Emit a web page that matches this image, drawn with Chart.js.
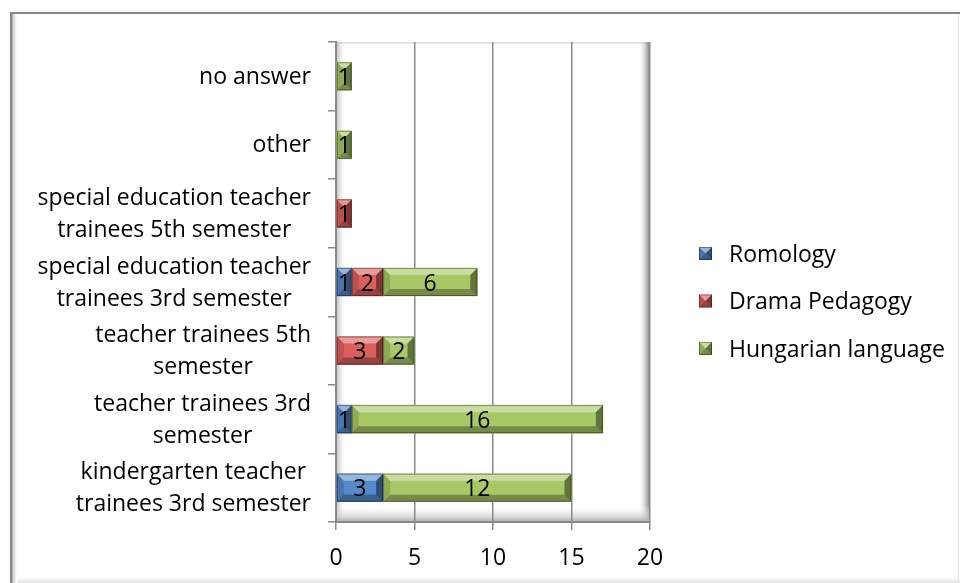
<!DOCTYPE html>
<html>
<head>
<meta charset="utf-8">
<script src="https://cdn.jsdelivr.net/npm/chart.js@4/dist/chart.umd.min.js"></script>
<style>
  html, body { margin: 0; padding: 0; background: #fff; }
  #wrap { width: 960px; height: 583px; }
</style>
</head>
<body>
<div id="wrap"><canvas id="chart" width="960" height="583"></canvas></div>
<script>
// categories, top to bottom (multi-line labels)
const categories = [
  ["no answer"],
  ["other"],
  ["special education teacher", "trainees 5th semester"],
  ["special education teacher", "trainees 3rd semester"],
  ["teacher trainees 5th", "semester"],
  ["teacher trainees 3rd", "semester"],
  ["kindergarten teacher", "trainees 3rd semester"]
];
const seriesNames = ["Romology", "Drama Pedagogy", "Hungarian language"];
const romology  = [null, null, null, 1, null, 1, 3];
const drama     = [null, null, 1, 2, 3, null, null];
const hungarian = [1, 1, null, 6, 2, 16, 12];
const xTicks = [0, 5, 10, 15, 20];

const FONT = "'Open Sans', sans-serif";
const FSIZE = 23;
const seriesColors = ["#5589C8", "#D9605D", "#A8C866"];

function bevel(ctx, l, t, r, b, color) {
  const w = r - l, h = b - t;
  const e = Math.min(7, w / 2, h / 2);
  ctx.save();
  ctx.fillStyle = color;
  ctx.fillRect(l, t, w, h);
  const poly = (pts, fill) => {
    ctx.beginPath();
    ctx.moveTo(pts[0][0], pts[0][1]);
    for (let i = 1; i < pts.length; i++) ctx.lineTo(pts[i][0], pts[i][1]);
    ctx.closePath();
    ctx.fillStyle = fill;
    ctx.fill();
  };
  poly([[l, t], [r, t], [r - e, t + e], [l + e, t + e]], "rgba(255,255,255,0.38)");
  poly([[l, b], [r, b], [r - e, b - e], [l + e, b - e]], "rgba(0,0,0,0.30)");
  poly([[l, t], [l + e, t + e], [l + e, b - e], [l, b]], "rgba(0,0,0,0.14)");
  poly([[r, t], [r - e, t + e], [r - e, b - e], [r, b]], "rgba(0,0,0,0.42)");
  ctx.strokeStyle = "rgba(0,0,0,0.35)";
  ctx.lineWidth = 1;
  ctx.strokeRect(l + 0.5, t + 0.5, w - 1, h - 1);
  ctx.restore();
}

const decor = {
  id: "decor",
  beforeDraw(chart) {
    const ctx = chart.ctx, a = chart.chartArea;
    ctx.save();
    ctx.fillStyle = "#fff";
    ctx.fillRect(0, 0, chart.width, chart.height);
    // outer frame
    ctx.fillStyle = "#868686";
    ctx.fillRect(10, 12, 950, 2);
    ctx.fillRect(10, 12, 2, 571);
    let g = ctx.createLinearGradient(12, 0, 18, 0);
    g.addColorStop(0, "rgba(120,120,120,0.6)");
    g.addColorStop(1, "rgba(255,255,255,0)");
    ctx.fillStyle = g;
    ctx.fillRect(12, 14, 6, 569);
    g = ctx.createLinearGradient(0, 575, 0, 583);
    g.addColorStop(0, "rgba(255,255,255,0)");
    g.addColorStop(1, "rgba(215,215,215,0.8)");
    ctx.fillStyle = g;
    ctx.fillRect(18, 575, 942, 8);
    ctx.fillStyle = "#e6e6e6";
    ctx.fillRect(958, 14, 1, 569);
    // 3D walls
    ctx.fillStyle = "#e4e4e4";
    ctx.fillRect(a.left, a.top, a.right - a.left, 2);
    g = ctx.createLinearGradient(a.left, 0, a.left + 10, 0);
    g.addColorStop(0, "#b8b8b8");
    g.addColorStop(1, "rgba(255,255,255,0)");
    ctx.fillStyle = g;
    ctx.fillRect(a.left, a.top, 10, a.bottom - a.top);
    g = ctx.createLinearGradient(a.right - 12, 0, a.right, 0);
    g.addColorStop(0, "rgba(255,255,255,0)");
    g.addColorStop(1, "#7a7a7a");
    ctx.fillStyle = g;
    ctx.fillRect(a.right - 12, a.top, 12, a.bottom - a.top);
    g = ctx.createLinearGradient(0, a.bottom - 17, 0, a.bottom);
    g.addColorStop(0, "rgba(255,255,255,0)");
    g.addColorStop(1, "#b0b0b0");
    ctx.fillStyle = g;
    ctx.fillRect(a.left, a.bottom - 17, a.right - a.left, 17);
    ctx.restore();
  },
  afterDatasetsDraw(chart) {
    const ctx = chart.ctx;
    chart.data.datasets.forEach((ds, di) => {
      const meta = chart.getDatasetMeta(di);
      meta.data.forEach((el, i) => {
        if (ds.data[i] == null) return;
        const p = el.getProps(["x", "y", "base", "height"], true);
        const l = Math.min(p.x, p.base), r = Math.max(p.x, p.base);
        bevel(ctx, l, p.y - p.height / 2, r, p.y + p.height / 2, ds.backgroundColor);
      });
    });
    // value labels
    ctx.save();
    ctx.font = FSIZE + "px " + FONT;
    ctx.fillStyle = "#000";
    ctx.textAlign = "center";
    ctx.textBaseline = "middle";
    chart.data.datasets.forEach((ds, di) => {
      const meta = chart.getDatasetMeta(di);
      meta.data.forEach((el, i) => {
        if (ds.data[i] == null) return;
        const p = el.getProps(["x", "y", "base"], true);
        ctx.fillText(String(ds.data[i]), (p.x + p.base) / 2, p.y + 2);
      });
    });
    ctx.restore();
  },
  afterDraw(chart) {
    const ctx = chart.ctx, ys = chart.scales.y;
    ctx.save();
    ctx.font = FSIZE + "px " + FONT;
    ctx.fillStyle = "#000";
    ctx.textBaseline = "middle";
    ctx.textAlign = "center";
    const lh = 32;
    const rightEdge = 311;
    chart.data.labels.forEach((lines, i) => {
      const cy = ys.getPixelForValue(i) + 1;
      const wmax = Math.max(...lines.map(s => ctx.measureText(s).width));
      const cx = rightEdge - wmax / 2;
      lines.forEach((s, k) => {
        ctx.fillText(s, cx, cy + (k - (lines.length - 1) / 2) * lh);
      });
    });
    // legend
    const lx = 699, ly0 = 254, step = 47.5;
    chart.data.datasets.forEach((ds, di) => {
      const y = ly0 + di * step;
      bevel(ctx, lx, y - 7, lx + 13, y + 6, ds.backgroundColor);
      ctx.textAlign = "left";
      ctx.fillStyle = "#000";
      ctx.fillText(ds.label, 729, y + 1);
    });
    ctx.restore();
  }
};

const seriesData = [romology, drama, hungarian];

new Chart(document.getElementById("chart"), {
  type: "bar",
  data: {
    labels: categories,
    datasets: seriesNames.map((name, i) => ({
      label: name,
      data: seriesData[i],
      backgroundColor: seriesColors[i],
      borderWidth: 0,
      barThickness: 28
    }))
  },
  options: {
    indexAxis: "y",
    responsive: false,
    animation: false,
    layout: { padding: { top: 42, right: 310, left: 0, bottom: 0 } },
    plugins: { legend: { display: false }, tooltip: { enabled: false } },
    scales: {
      x: {
        stacked: true,
        min: xTicks[0],
        max: xTicks[xTicks.length - 1],
        afterBuildTicks: s => { s.ticks = xTicks.map(v => ({ value: v })); },
        afterFit: s => { s.height = 61; },
        ticks: { color: "#000", font: { family: FONT, size: FSIZE }, padding: 15 },
        grid: { color: "#8a8a8a", lineWidth: 1.5, tickLength: 8, tickColor: "#8a8a8a" },
        border: { color: "#8a8a8a", width: 2 }
      },
      y: {
        stacked: true,
        afterFit: s => { s.width = 336; },
        ticks: { display: false },
        grid: { drawOnChartArea: false, offset: true, tickLength: 8, color: "#8a8a8a", lineWidth: 1.5 },
        border: { color: "#8a8a8a", width: 2 }
      }
    }
  },
  plugins: [decor]
});
</script>
</body>
</html>
